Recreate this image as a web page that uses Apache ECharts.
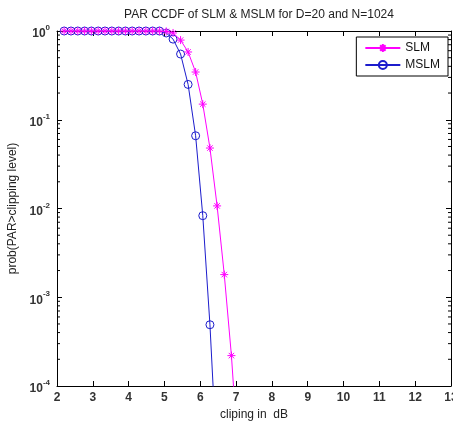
<!DOCTYPE html>
<html>
<head>
<meta charset="utf-8">
<script src="https://cdn.jsdelivr.net/npm/echarts@6/dist/echarts.min.js"></script>
<style>
  html, body { margin: 0; padding: 0; background: #fff; }
  #chart { width: 453px; height: 423px; }
</style>
</head>
<body>
<div id="chart"></div>
<script>
// clipping level (dB), shared by both curves
const clipDb = [
  2.20, 2.39, 2.58, 2.77, 2.96, 3.15, 3.34, 3.53, 3.72, 3.91, 4.10, 4.29, 4.48,
  4.67, 4.86, 5.05, 5.24, 5.45, 5.66, 5.87, 6.07, 6.27, 6.47, 6.67, 6.87, 7.07
];
const slmCcdf = [
  1, 1, 1, 1, 1, 1, 1, 1, 1, 1, 1, 1, 1,
  1, 1, 0.99, 0.95, 0.79, 0.58, 0.345, 0.15, 0.048, 0.0107, 0.0018, 0.00022, 0.000014
];
const mslmCcdf = [
  1, 1, 1, 1, 1, 1, 1, 1, 1, 1, 1, 1, 1,
  1, 1, 0.95, 0.81, 0.55, 0.25, 0.066, 0.0083, 0.00049, 0.000013
];
const xTicks = [2, 3, 4, 5, 6, 7, 8, 9, 10, 11, 12, 13];
const yMinorTicks = [
  2e-4, 3e-4, 4e-4, 5e-4, 6e-4, 7e-4, 8e-4, 9e-4,
  2e-3, 3e-3, 4e-3, 5e-3, 6e-3, 7e-3, 8e-3, 9e-3,
  2e-2, 3e-2, 4e-2, 5e-2, 6e-2, 7e-2, 8e-2, 9e-2,
  0.2, 0.3, 0.4, 0.5, 0.6, 0.7, 0.8, 0.9
];

const toPairs = (ys) => ys.map((y, i) => [clipDb[i], y]);

const xMin = xTicks[0];
const xMax = xTicks[xTicks.length - 1];
const axisLine = { lineStyle: { color: '#000', width: 1 } };
const fontFamily = '"Liberation Sans", Arial, sans-serif';
const starPath = 'path://M5,0L5,10M0,5L10,5M1.6,1.6L8.4,8.4M8.4,1.6L1.6,8.4';

// short inside ticks on both y edges for the log minor values
function renderMinorTick(params, api) {
  const v = api.value(0);
  const left = api.coord([xMin, v]);
  const right = api.coord([xMax, v]);
  const style = { stroke: '#000', lineWidth: 1 };
  return {
    type: 'group',
    children: [
      { type: 'line', shape: { x1: left[0], y1: left[1], x2: left[0] + 3, y2: left[1] }, style },
      { type: 'line', shape: { x1: right[0], y1: right[1], x2: right[0] - 3, y2: right[1] }, style },
    ],
  };
}

const chart = echarts.init(document.getElementById('chart'));
chart.setOption({
  backgroundColor: '#fff',
  animation: false,
  textStyle: { fontFamily },
  title: {
    text: 'PAR CCDF of SLM & MSLM for D=20 and N=1024',
    left: 254,
    top: 4,
    textAlign: 'center',
    textStyle: { fontSize: 12, fontWeight: 'normal', color: '#222', fontFamily },
  },
  legend: {
    right: 5,
    top: 37,
    orient: 'vertical',
    itemWidth: 35,
    itemHeight: 10,
    itemGap: 5,
    padding: [5, 8, 5, 8],
    borderColor: '#000',
    borderWidth: 1,
    backgroundColor: '#fff',
    textStyle: { fontSize: 12, color: '#111', fontFamily },
    data: ['SLM', 'MSLM'],
  },
  grid: {
    left: 57,
    top: 31,
    right: 2,
    bottom: 37,
    outerBoundsMode: 'none',
    containLabel: false,
  },
  xAxis: [
    {
      type: 'value',
      position: 'bottom',
      min: xMin,
      max: xMax,
      interval: 1,
      axisLine,
      axisTick: { inside: true, length: 5, lineStyle: { color: '#000' } },
      axisLabel: { margin: 6, fontSize: 12, fontWeight: 'bold', color: '#333' },
      splitLine: { show: false },
      name: 'cliping in  dB',
      nameLocation: 'middle',
      nameGap: 22,
      nameTextStyle: { fontSize: 12, color: '#222' },
    },
    {
      type: 'value',
      position: 'top',
      min: xMin,
      max: xMax,
      interval: 1,
      axisLine,
      axisTick: { inside: true, length: 5, lineStyle: { color: '#000' } },
      axisLabel: { show: false },
      splitLine: { show: false },
    },
  ],
  yAxis: [
    {
      type: 'log',
      logBase: 10,
      position: 'left',
      min: 1e-4,
      max: 1,
      axisLine,
      axisTick: { inside: true, length: 5, lineStyle: { color: '#000' } },
      splitLine: { show: false },
      axisLabel: {
        margin: 7,
        color: '#333',
        formatter(v) {
          const e = Math.round(Math.log10(v));
          return `{b|10}{s|${e}}`;
        },
        rich: {
          b: { fontSize: 12, fontWeight: 'bold', color: '#333', padding: [6, 0, 0, 0] },
          s: { fontSize: 8, fontWeight: 'bold', color: '#333', padding: [0, 0, 6, 0] },
        },
      },
      name: 'prob(PAR>clipping level)',
      nameLocation: 'middle',
      nameGap: 35,
      nameTextStyle: { fontSize: 12, color: '#222' },
    },
    {
      type: 'log',
      logBase: 10,
      position: 'right',
      min: 1e-4,
      max: 1,
      axisLine,
      axisTick: { inside: true, length: 5, lineStyle: { color: '#000' } },
      axisLabel: { show: false },
      splitLine: { show: false },
    },
  ],
  series: [
    {
      name: 'minorTicks',
      type: 'custom',
      xAxisIndex: 0,
      yAxisIndex: 0,
      data: yMinorTicks.map((v) => [v]),
      encode: { y: 0 },
      renderItem: renderMinorTick,
      silent: true,
      clip: false,
      z: 1,
    },
    {
      name: 'SLM',
      type: 'line',
      xAxisIndex: 0,
      yAxisIndex: 0,
      data: toPairs(slmCcdf),
      clip: true,
      symbol: starPath,
      symbolSize: 8,
      showAllSymbol: true,
      lineStyle: { color: '#ff00ff', width: 1 },
      itemStyle: { color: '#ff00ff', borderColor: '#ff00ff', borderWidth: 1 },
      z: 3,
    },
    {
      name: 'MSLM',
      type: 'line',
      xAxisIndex: 0,
      yAxisIndex: 0,
      data: toPairs(mslmCcdf),
      clip: true,
      symbol: 'circle',
      symbolSize: 8,
      showAllSymbol: true,
      lineStyle: { color: '#1c1ccc', width: 1 },
      itemStyle: { color: 'rgba(0,0,0,0)', borderColor: '#1c1ccc', borderWidth: 1 },
      z: 2,
    },
  ],
});
</script>
</body>
</html>
